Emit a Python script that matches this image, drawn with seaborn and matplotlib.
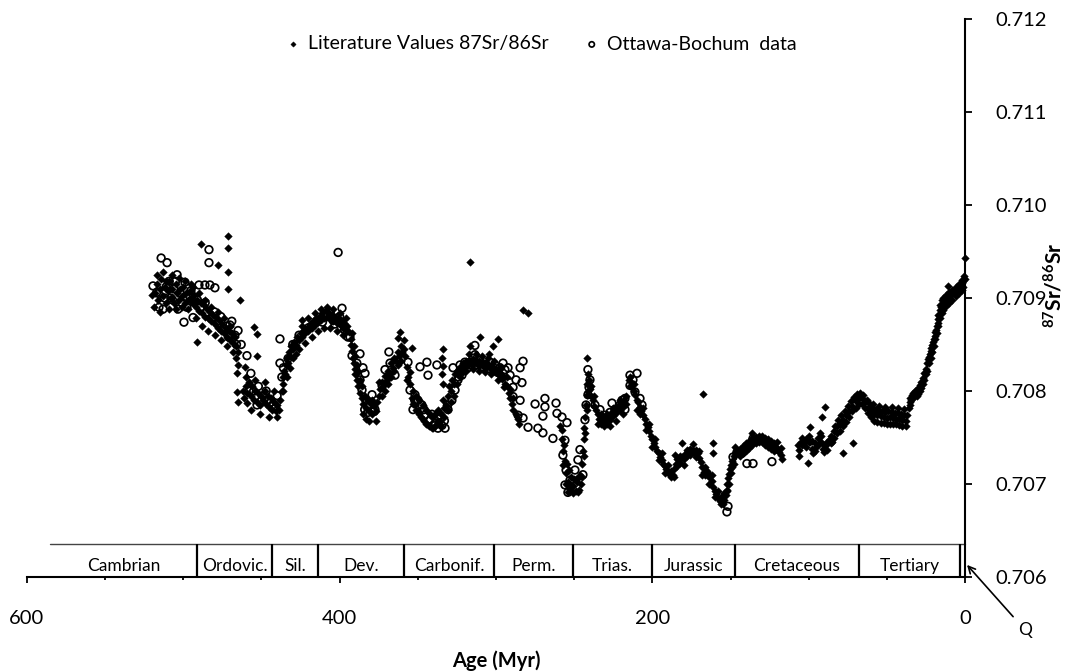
import matplotlib
matplotlib.use("Agg")
import matplotlib.pyplot as plt
import pandas as pd
import seaborn as sns
from matplotlib.ticker import FixedLocator, MultipleLocator

# ---------------- data (age in Myr, 87Sr/86Sr) ----------------
periods = ["Cambrian", "Ordovic.", "Sil.", "Dev.", "Carbonif.", "Perm.",
           "Trias.", "Jurassic", "Cretaceous", "Tertiary"]
period_bounds = [585, 491, 443, 414, 359, 301, 251, 200, 147, 68, 3]
band_top = 0.70636

y_ticks = [0.706, 0.707, 0.708, 0.709, 0.710, 0.711, 0.712]
x_major = [600, 400, 200, 0]

lit_cambrian_ordovician = [
    (520, 0.70903), (518, 0.70905), (517, 0.70915), (516, 0.70898), (515, 0.70910), (514, 0.70920),
    (513, 0.70902), (512, 0.70912), (511, 0.70895), (510, 0.70908), (509, 0.70918), (508, 0.70900),
    (507, 0.70910), (506, 0.70895), (505, 0.70915), (504, 0.70905), (503, 0.70898), (502, 0.70910),
    (501, 0.70902), (500, 0.70912), (499, 0.70895), (498, 0.70905), (497, 0.70898), (496, 0.70908),
    (495, 0.70900), (494, 0.70895), (493, 0.70903), (492, 0.70890), (491, 0.70898), (490, 0.70886),
    (489, 0.70895), (488, 0.70884), (487, 0.70892), (486, 0.70880), (485, 0.70888), (484, 0.70878),
    (483, 0.70885), (482, 0.70875), (481, 0.70882), (480, 0.70872), (479, 0.70880), (478, 0.70868),
    (477, 0.70876), (476, 0.70865), (475, 0.70872), (474, 0.70862), (473, 0.70868), (472, 0.70858),
    (471, 0.70865), (470, 0.70855), (469, 0.70862), (468, 0.70852), (467, 0.70858), (466, 0.70848),
    (465, 0.70842),
    (519, 0.70890), (517, 0.70925), (515, 0.70885), (513, 0.70928), (511, 0.70918), (509, 0.70888),
    (507, 0.70925), (505, 0.70888), (503, 0.70922), (501, 0.70890), (499, 0.70918), (497, 0.70888),
    (495, 0.70915), (494, 0.70912), (492, 0.70878), (490, 0.70905), (488, 0.70870), (486, 0.70898),
    (484, 0.70865), (482, 0.70890), (480, 0.70860), (478, 0.70885), (476, 0.70855), (474, 0.70878),
    (472, 0.70848), (470, 0.70870), (468, 0.70842), (466, 0.70835), (465, 0.70828),
    (491, 0.70853), (488.7, 0.70958), (471.5, 0.70967), (471.5, 0.70954), (478, 0.70935),
    (471.5, 0.70928), (471.5, 0.70910), (464, 0.70898), (455, 0.70869), (453, 0.70861),
    (453, 0.70838), (460.6, 0.70826), (465.7, 0.70819), (465.7, 0.70799), (465, 0.70788),
    (459.3, 0.70787), (424, 0.70876),
]
lit_silurian = [
    (462, 0.70800), (461, 0.70792), (460, 0.70805), (459, 0.70798), (458, 0.70810), (457, 0.70795),
    (456, 0.70805), (455, 0.70790), (454, 0.70800), (453, 0.70788), (452, 0.70798), (451, 0.70785),
    (450, 0.70795), (449, 0.70790), (448, 0.70800), (447, 0.70786), (446, 0.70795), (445, 0.70783),
    (444, 0.70792), (443, 0.70780), (442, 0.70788), (441, 0.70778), (440, 0.70785), (439, 0.70780),
    (438, 0.70790), (437, 0.70800), (436.5, 0.70808), (436, 0.70815), (435.5, 0.70822), (435, 0.70818),
    (434.5, 0.70828), (434, 0.70835), (433, 0.70830), (432.5, 0.70842), (432, 0.70838), (431, 0.70848),
    (430, 0.70845), (429, 0.70853), (428, 0.70850), (427, 0.70858), (426, 0.70855), (425, 0.70862),
    (424, 0.70858), (423, 0.70866), (422, 0.70862), (421, 0.70868), (420, 0.70865), (419, 0.70872),
    (418, 0.70868), (417, 0.70875), (416, 0.70871), (415, 0.70878), (414, 0.70874),
    (460, 0.70815), (457, 0.70780), (454, 0.70812), (451, 0.70775), (448, 0.70810), (445, 0.70772),
    (442, 0.70800), (440, 0.70772), (436, 0.70800), (434, 0.70815), (432, 0.70825), (430, 0.70835),
    (428, 0.70840), (426, 0.70845), (424, 0.70870), (422, 0.70852), (420, 0.70878), (418, 0.70858),
    (416, 0.70884), (414, 0.70864),
]
lit_devonian = [
    (413, 0.70880), (412, 0.70876), (411, 0.70884), (410, 0.70878), (409, 0.70886), (408, 0.70880),
    (407, 0.70884), (406, 0.70877), (405, 0.70882), (404, 0.70875), (403, 0.70880), (402, 0.70873),
    (401, 0.70878), (400, 0.70872), (399, 0.70876), (398, 0.70869), (397, 0.70873), (396, 0.70866),
    (395, 0.70870), (394, 0.70863), (393, 0.70856), (392.5, 0.70850), (392, 0.70843), (391.5, 0.70836),
    (391, 0.70830), (390.5, 0.70824), (390, 0.70818), (389, 0.70812), (388, 0.70805), (387, 0.70798),
    (386, 0.70792), (385, 0.70786), (384, 0.70795), (383, 0.70782), (382, 0.70790), (381, 0.70778),
    (380, 0.70786), (379, 0.70775), (378, 0.70784), (377, 0.70778), (376, 0.70788), (375, 0.70795),
    (374, 0.70802), (373, 0.70810), (372, 0.70805), (371, 0.70816), (370, 0.70812), (369, 0.70822),
    (368, 0.70818), (367, 0.70830), (366, 0.70825), (365, 0.70836), (364, 0.70832), (363, 0.70842),
    (362, 0.70838), (361, 0.70848), (360, 0.70842), (359, 0.70845),
    (412, 0.70888), (410, 0.70868), (408, 0.70890), (406, 0.70868), (404, 0.70888), (402, 0.70864),
    (400, 0.70884), (398, 0.70860), (396, 0.70878), (392, 0.70862), (391, 0.70848), (390, 0.70838),
    (389, 0.70828), (388, 0.70820), (387, 0.70812), (386, 0.70805), (385, 0.70775), (383, 0.70770),
    (381, 0.70768), (379, 0.70790), (377, 0.70768), (375, 0.70810), (373, 0.70795), (371, 0.70800),
    (369, 0.70808), (367, 0.70815), (365, 0.70822), (363, 0.70828), (361, 0.70832), (359, 0.70855),
    (361.4, 0.70863), (362.7, 0.70857), (353.7, 0.70846),
]
lit_carboniferous = [
    (358, 0.70838), (357, 0.70826), (356, 0.70815), (355, 0.70808), (354, 0.70792), (353, 0.70800),
    (352, 0.70785), (351, 0.70795), (350, 0.70778), (349, 0.70790), (348, 0.70772), (347, 0.70785),
    (346, 0.70768), (345, 0.70780), (344, 0.70764), (343, 0.70776), (342, 0.70762), (341, 0.70772),
    (340, 0.70760), (339, 0.70775), (338, 0.70765), (337, 0.70780), (336, 0.70768), (335, 0.70775),
    (334, 0.70790), (333, 0.70772), (332, 0.70785), (331, 0.70795), (330, 0.70805), (329, 0.70800),
    (328, 0.70812), (327, 0.70808), (326, 0.70818), (325, 0.70822), (324, 0.70818), (323, 0.70826),
    (322, 0.70823), (321, 0.70830), (320, 0.70827), (319, 0.70832), (318, 0.70828), (317, 0.70833),
    (316, 0.70829), (315, 0.70834), (314, 0.70830), (313, 0.70833), (312, 0.70829), (311, 0.70832),
    (310, 0.70828), (309, 0.70831), (308, 0.70827), (307, 0.70830), (306, 0.70826), (305, 0.70829),
    (304, 0.70825), (303, 0.70827), (302, 0.70823), (301, 0.70825), (300, 0.70820), (299, 0.70822),
    (298, 0.70817), (297, 0.70818), (296, 0.70813), (295, 0.70815), (294, 0.70808), (293, 0.70805),
    (292, 0.70798), (291, 0.70792), (290, 0.70786), (289, 0.70780),
    (357, 0.70812), (355, 0.70820), (353, 0.70786), (351, 0.70780), (349, 0.70775), (347, 0.70770),
    (345, 0.70765), (343, 0.70762), (341, 0.70760), (339, 0.70762), (337, 0.70768), (335, 0.70762),
    (333, 0.70782), (331, 0.70780), (329, 0.70788), (327, 0.70795), (325, 0.70808), (323, 0.70815),
    (321, 0.70820), (319, 0.70822), (317, 0.70840), (315, 0.70824), (313, 0.70840), (311, 0.70822),
    (309, 0.70838), (307, 0.70820), (305, 0.70835), (303, 0.70818), (301, 0.70832), (299, 0.70812),
    (297, 0.70826), (295, 0.70804), (293, 0.70815), (291, 0.70802), (289, 0.70792),
    (334, 0.70845), (334.5, 0.70836), (334, 0.70827), (334.5, 0.70818), (334, 0.70808),
    (316.6, 0.70939), (310, 0.70858), (298.7, 0.70856), (302, 0.70848), (304.5, 0.70840),
    (316.6, 0.70848), (282.7, 0.70887), (279.5, 0.70884),
]
lit_permian_triassic = [
    (287, 0.70775), (286, 0.70770), (285, 0.70765),
    (259, 0.70762), (258, 0.70748), (257, 0.70735), (256.5, 0.70742), (256, 0.70725), (255, 0.70712),
    (254.5, 0.70722), (254, 0.70702), (253, 0.70715), (252.5, 0.70695), (252, 0.70708), (251, 0.70698),
    (250, 0.70705), (249, 0.70692), (248, 0.70702), (247, 0.70694), (246, 0.70710), (245.5, 0.70700),
    (245, 0.70722), (244.5, 0.70735), (244, 0.70748), (243.5, 0.70760), (243, 0.70772), (242.5, 0.70785),
    (242, 0.70796), (241.5, 0.70808), (241, 0.70818), (240.5, 0.70812), (240, 0.70802), (239, 0.70795),
    (238, 0.70790), (237, 0.70784), (236, 0.70780), (235, 0.70775), (234, 0.70770), (233, 0.70764),
    (232, 0.70768), (231, 0.70762), (230, 0.70770), (229, 0.70765), (228, 0.70773), (227, 0.70769),
    (226, 0.70777), (225, 0.70773), (224, 0.70780), (223, 0.70776), (222, 0.70784), (221, 0.70780),
    (220, 0.70787), (219, 0.70783), (218, 0.70790), (217, 0.70786), (215, 0.70812), (214, 0.70805),
    (213, 0.70809), (212, 0.70800), (211, 0.70796), (210, 0.70790),
    (258, 0.70758), (257, 0.70720), (255, 0.70700), (253, 0.70700), (251, 0.70690), (249, 0.70705),
    (247, 0.70708), (245, 0.70708), (244, 0.70730), (243, 0.70755), (242, 0.70780), (241, 0.70800),
    (239, 0.70805), (237, 0.70795), (235, 0.70765), (233, 0.70775), (231, 0.70772), (229, 0.70775),
    (227, 0.70762), (225, 0.70782), (223, 0.70768), (221, 0.70790), (219, 0.70775), (217, 0.70795),
    (214, 0.70815), (212, 0.70808), (210, 0.70780),
    (241.8, 0.70835), (254, 0.70691), (247.6, 0.70691),
]
lit_jurassic = [
    (209, 0.70788), (208, 0.70783), (207, 0.70779), (206, 0.70774), (205, 0.70770), (204, 0.70765),
    (203, 0.70761), (202, 0.70757), (201, 0.70752), (200, 0.70748), (199, 0.70744), (198, 0.70740),
    (197, 0.70736), (196, 0.70733), (195, 0.70729), (194, 0.70726), (193, 0.70722), (192, 0.70719),
    (191, 0.70716), (190, 0.70713), (189, 0.70710), (188, 0.70707), (187, 0.70710), (186, 0.70716),
    (185, 0.70722), (184, 0.70719), (183, 0.70726), (182, 0.70723), (181, 0.70729), (180, 0.70727),
    (179, 0.70732), (178, 0.70730), (177, 0.70735), (176, 0.70738), (175, 0.70734), (174, 0.70737),
    (173, 0.70732), (172, 0.70729), (171, 0.70733), (170, 0.70728), (169, 0.70724), (168, 0.70718),
    (167, 0.70713), (166, 0.70710), (165, 0.70714), (164, 0.70707), (163, 0.70710), (162, 0.70703),
    (161, 0.70697), (160, 0.70693), (159, 0.70689), (158, 0.70685), (157, 0.70682), (156, 0.70686),
    (155, 0.70679), (154, 0.70683), (153, 0.70688), (152.5, 0.70694), (152, 0.70700), (151.5, 0.70706),
    (151, 0.70711), (150.5, 0.70716), (150, 0.70720), (149, 0.70725), (148, 0.70730), (147, 0.70733),
    (146, 0.70736),
    (208, 0.70775), (206, 0.70782), (204, 0.70758), (202, 0.70765), (200, 0.70740), (198, 0.70748),
    (196, 0.70726), (194, 0.70733), (192, 0.70712), (190, 0.70720), (188, 0.70714), (186, 0.70708),
    (184, 0.70727), (182, 0.70730), (180, 0.70720), (178, 0.70737), (176, 0.70731), (174, 0.70743),
    (172, 0.70737), (170, 0.70735), (168, 0.70710), (166, 0.70718), (164, 0.70700), (162, 0.70710),
    (160, 0.70686), (158, 0.70692), (156, 0.70678), (154, 0.70690), (152, 0.70692), (151, 0.70700),
    (150, 0.70712), (149, 0.70718), (148, 0.70722), (147, 0.70740),
    (181, 0.70744), (185.5, 0.70731), (167.6, 0.70797), (161, 0.70744), (161, 0.70733),
]
lit_cretaceous = [
    (145, 0.70733), (144, 0.70738), (143, 0.70735), (142, 0.70741), (141, 0.70738), (140, 0.70744),
    (139, 0.70740), (138, 0.70746), (137, 0.70743), (136, 0.70749), (135, 0.70746), (134, 0.70751),
    (133, 0.70748), (132, 0.70752), (131, 0.70749), (130, 0.70752), (129, 0.70748), (128, 0.70750),
    (127, 0.70746), (126, 0.70748), (125, 0.70744), (124, 0.70746), (123, 0.70742), (122, 0.70744),
    (121, 0.70740), (120, 0.70737), (119, 0.70734), (118, 0.70731), (117, 0.70727),
    (107, 0.70742), (106, 0.70737), (105, 0.70745), (104, 0.70750), (103, 0.70744), (102, 0.70740),
    (101, 0.70748), (100, 0.70752), (99, 0.70745), (98, 0.70738), (97, 0.70733), (96, 0.70744),
    (95, 0.70740), (94, 0.70750), (93, 0.70755), (92, 0.70745), (91, 0.70738), (90, 0.70734),
    (89, 0.70742), (88, 0.70737), (87, 0.70747), (86, 0.70752), (85, 0.70745), (84, 0.70757),
    (83, 0.70762), (82, 0.70755), (81, 0.70769), (80, 0.70764), (79, 0.70774), (78, 0.70769),
    (77, 0.70779), (76, 0.70774), (75, 0.70784), (74, 0.70779), (73, 0.70789), (72, 0.70784),
    (71, 0.70794), (70, 0.70789), (69, 0.70797), (68, 0.70792),
    (144, 0.70730), (142, 0.70733), (140, 0.70736), (138, 0.70739), (136, 0.70742), (134, 0.70744),
    (132, 0.70745), (130, 0.70745), (128, 0.70742), (126, 0.70740), (124, 0.70738), (122, 0.70736),
    (120, 0.70745), (118, 0.70739), (106, 0.70730), (104, 0.70742), (102, 0.70748), (100, 0.70745),
    (98, 0.70746), (96, 0.70736), (94, 0.70742), (92, 0.70752), (90, 0.70742), (88, 0.70745),
    (86, 0.70744), (84, 0.70750), (82, 0.70762), (80, 0.70757), (78, 0.70762), (76, 0.70767),
    (74, 0.70772), (72, 0.70778), (70, 0.70782), (68, 0.70786),
    (136, 0.70755), (99, 0.70761), (100.5, 0.70723), (91.5, 0.70772), (89.6, 0.70783),
    (78, 0.70733), (71.7, 0.70744),
]
lit_tertiary = [
    (67, 0.70798), (66, 0.70793), (65, 0.70796), (64, 0.70788), (63, 0.70790), (62, 0.70782),
    (61, 0.70786), (60, 0.70778), (59, 0.70782), (58, 0.70775), (57, 0.70780), (56, 0.70774),
    (55, 0.70779), (54, 0.70773), (53, 0.70778), (52, 0.70772), (51, 0.70777), (50, 0.70771),
    (49, 0.70778), (48, 0.70772), (47, 0.70777), (46, 0.70771), (45, 0.70776), (44, 0.70770),
    (43, 0.70776), (42, 0.70770), (41, 0.70775), (40, 0.70769), (39, 0.70774), (38, 0.70768),
    (37, 0.70774), (36, 0.70782), (35.5, 0.70788), (35, 0.70793), (34.5, 0.70790), (34, 0.70796),
    (33, 0.70798), (32, 0.70800), (31, 0.70801), (30, 0.70803), (29, 0.70806), (28, 0.70810),
    (27, 0.70814), (26, 0.70819), (25, 0.70824), (24, 0.70830), (23.5, 0.70834), (23, 0.70837),
    (22.5, 0.70840), (22, 0.70843), (21.5, 0.70846), (21, 0.70849), (20.5, 0.70853), (20, 0.70856),
    (19.5, 0.70859), (19, 0.70863), (18.5, 0.70866), (18, 0.70870), (17.5, 0.70873), (17, 0.70877),
    (16.5, 0.70882), (16, 0.70887), (15.5, 0.70890), (15, 0.70892), (14, 0.70894), (13, 0.70896),
    (12, 0.70898), (11, 0.70900), (10, 0.70902), (9, 0.70903), (8, 0.70905), (7, 0.70906),
    (6, 0.70908), (5, 0.70910), (4, 0.70912), (3, 0.70914), (2, 0.70916), (1, 0.70918), (0.3, 0.70920),
    (66, 0.70786), (64, 0.70782), (62, 0.70776), (60, 0.70772), (58, 0.70768), (56, 0.70767),
    (54, 0.70766), (52, 0.70766), (50, 0.70765), (48, 0.70765), (46, 0.70764), (44, 0.70764),
    (42, 0.70763), (40, 0.70762), (38, 0.70762), (59, 0.70786), (55, 0.70784), (51, 0.70783),
    (47, 0.70783), (43, 0.70782), (39, 0.70781), (35, 0.70785), (33, 0.70792), (31, 0.70795),
    (29, 0.70800), (27, 0.70808), (25, 0.70818), (23, 0.70830), (21, 0.70842), (19, 0.70856),
    (17, 0.70882), (16, 0.70893), (15, 0.70898),
    (30, 0.70797), (28, 0.70803), (26, 0.70812), (24, 0.70822), (22, 0.70835), (20, 0.70848),
    (18, 0.70862), (17, 0.70870), (16, 0.70878), (15, 0.70884), (14, 0.70887), (12, 0.70891),
    (10, 0.70895), (8, 0.70898), (6, 0.70902), (4, 0.70905), (2, 0.70909), (1, 0.70912),
    (14, 0.70900), (12, 0.70903), (10, 0.70906), (8, 0.70909), (6, 0.70912), (4, 0.70915),
    (2, 0.70919), (0.5, 0.70924),
    (10.9, 0.70913), (0, 0.70943),
]

ob_cambrian_ordovician = [
    (514.2, 0.70943), (510.4, 0.70938), (519.4, 0.70913), (515.6, 0.70890), (513, 0.70888),
    (503.4, 0.70888), (499.6, 0.70874), (493.8, 0.70879), (504, 0.70925), (499, 0.70917),
    (497.7, 0.70890), (495.1, 0.70908), (483.6, 0.70952), (483.6, 0.70938), (490, 0.70914),
    (486.2, 0.70914), (483, 0.70914), (479.8, 0.70911), (470.2, 0.70871), (467, 0.70860),
    (459.3, 0.70838), (456.8, 0.70819), (438.2, 0.70856), (438.2, 0.70830), (509, 0.70918),
    (506, 0.70910), (512, 0.70900), (502, 0.70905), (498, 0.70900), (491, 0.70898), (486, 0.70895),
    (480, 0.70885), (476, 0.70880), (472, 0.70870), (469, 0.70875), (465, 0.70865), (463, 0.70850),
    (517, 0.70906), (508, 0.70900), (516, 0.70905), (511, 0.70912), (507, 0.70898), (505, 0.70918),
    (501, 0.70895), (496, 0.70902), (493, 0.70895), (489, 0.70890), (485, 0.70885), (482, 0.70878),
    (478, 0.70872), (474, 0.70866), (471, 0.70858), (466, 0.70850),
    (455, 0.70800), (452, 0.70805), (449, 0.70795), (446, 0.70790), (443, 0.70785), (440, 0.70795),
    (437, 0.70815), (436, 0.70825), (452.9, 0.70785), (433, 0.70835), (430, 0.70850),
    (426, 0.70860), (420, 0.70868), (458, 0.70800), (450, 0.70790), (447, 0.70800),
    (444, 0.70788), (441, 0.70782),
]
ob_devonian_carboniferous = [
    (401, 0.70949), (398.5, 0.70889), (409.4, 0.70880), (404.3, 0.70876), (399.8, 0.70873),
    (396.6, 0.70868), (394.7, 0.70858), (393.4, 0.70858), (392.1, 0.70838), (387, 0.70840),
    (389, 0.70830), (385.1, 0.70825), (383.8, 0.70819), (387, 0.70812), (385.7, 0.70801),
    (383.2, 0.70790), (380.6, 0.70785), (379.3, 0.70796), (377.4, 0.70780), (381.9, 0.70777),
    (368.5, 0.70842), (367.8, 0.70830), (371, 0.70823), (364.6, 0.70817), (372.9, 0.70806),
    (406, 0.70884), (402, 0.70878), (411, 0.70874), (408, 0.70882), (403, 0.70872), (400, 0.70880),
    (397, 0.70866), (384, 0.70780), (382, 0.70785), (378, 0.70778),
    (356.3, 0.70831), (348.6, 0.70826), (344.2, 0.70831), (343.5, 0.70817), (337.8, 0.70828),
    (353.1, 0.70780), (355, 0.70801), (351.8, 0.70796), (349.9, 0.70790), (347.4, 0.70785),
    (345.5, 0.70774), (342.2, 0.70769), (340.3, 0.70763), (337.1, 0.70760), (334.6, 0.70763),
    (332.6, 0.70760), (335.8, 0.70774), (330.7, 0.70780), (328.2, 0.70790), (326.2, 0.70801),
    (324.3, 0.70812), (323, 0.70828), (319.9, 0.70831), (313.5, 0.70849), (313.5, 0.70839),
    (316.6, 0.70828), (310.2, 0.70833), (307, 0.70828), (303.8, 0.70831), (300.7, 0.70828),
    (297.4, 0.70825), (294.3, 0.70823), (321.8, 0.70817), (327.5, 0.70825), (324, 0.70815),
    (352, 0.70790), (346, 0.70780), (341, 0.70775), (339, 0.70765), (336, 0.70770), (333, 0.70768),
    (331, 0.70785), (318, 0.70825), (315, 0.70830), (312, 0.70828), (309, 0.70826), (305, 0.70824),
    (302, 0.70826), (299, 0.70820),
]
ob_permian_triassic = [
    (295.5, 0.70830), (282.7, 0.70832), (284.6, 0.70825), (283.4, 0.70809), (289.1, 0.70804),
    (289.1, 0.70794), (284.6, 0.70790), (285.9, 0.70774), (282.7, 0.70771), (279.5, 0.70761),
    (291, 0.70817), (287.2, 0.70812), (292.3, 0.70825), (275, 0.70786), (268.7, 0.70792),
    (268.7, 0.70783), (270, 0.70773), (261.6, 0.70787), (261, 0.70776), (257.8, 0.70772),
    (254.6, 0.70766), (273.2, 0.70760), (270, 0.70755), (263.6, 0.70749), (255.9, 0.70747),
    (257.2, 0.70731), (255.2, 0.70715), (255.9, 0.70699), (252.7, 0.70704), (249.5, 0.70715),
    (247.6, 0.70726), (246.3, 0.70737), (244.4, 0.70710), (254, 0.70691),
    (241.2, 0.70823), (240.5, 0.70804), (239.9, 0.70812), (241.2, 0.70796), (243.1, 0.70769),
    (242.4, 0.70785), (236.7, 0.70785), (233.5, 0.70780), (230.3, 0.70774), (227.1, 0.70777),
    (223.9, 0.70780), (220.7, 0.70785), (219.4, 0.70790), (217.5, 0.70780), (217.5, 0.70792),
    (225.8, 0.70787), (214.3, 0.70817), (209.8, 0.70819), (214.3, 0.70806), (212.4, 0.70812),
    (211.1, 0.70799), (207.9, 0.70792), (206.6, 0.70785),
]
ob_jurassic_cretaceous = [
    (152.3, 0.70670), (151.6, 0.70676), (148.4, 0.70729), (145.9, 0.70734), (142.7, 0.70733),
    (135.6, 0.70749), (139.5, 0.70722), (135.6, 0.70722), (123.5, 0.70724),
]


def to_frame(*groups):
    rows = [pt for g in groups for pt in g]
    return pd.DataFrame(rows, columns=["age", "sr"])


lit = to_frame(lit_cambrian_ordovician, lit_silurian, lit_devonian, lit_carboniferous,
               lit_permian_triassic, lit_jurassic, lit_cretaceous, lit_tertiary)
ob = to_frame(ob_cambrian_ordovician, ob_devonian_carboniferous, ob_permian_triassic,
              ob_jurassic_cretaceous)

# ---------------- style ----------------
sns.set_theme(style="white", rc={
    "axes.edgecolor": "black", "text.color": "black", "axes.labelcolor": "black",
    "xtick.color": "black", "ytick.color": "black"})
plt.rcParams["font.family"] = ["Lato", "DejaVu Sans"]
plt.rcParams["mathtext.fontset"] = "custom"
plt.rcParams["mathtext.rm"] = "Lato"
plt.rcParams["mathtext.bf"] = "Lato:bold"

W, H = 1082, 672
fig = plt.figure(figsize=(W / 100, H / 100), dpi=100)
ax = fig.add_axes([27 / W, 95 / H, 938 / W, 558 / H])

sns.scatterplot(data=lit, x="age", y="sr", ax=ax, marker="D", s=15, color="black",
                edgecolor="black", linewidth=0.3, label="Literature Values 87Sr/86Sr",
                zorder=3, clip_on=False)
sns.scatterplot(data=ob, x="age", y="sr", ax=ax, marker="o", s=30, color="black",
                facecolor="none", edgecolor="black", linewidth=1.25,
                label="Ottawa-Bochum  data", zorder=4)

ax.set_xlim(600, 0)
ax.set_ylim(0.706, 0.712)

for side in ("top", "left"):
    ax.spines[side].set_visible(False)
for side in ("bottom", "right"):
    ax.spines[side].set_linewidth(1.5)
    ax.spines[side].set_color("black")

ax.yaxis.tick_right()
ax.yaxis.set_label_position("right")
ax.yaxis.set_major_locator(FixedLocator(y_ticks))
ax.set_yticklabels([f"{v:.3f}" for v in y_ticks])
ax.xaxis.set_major_locator(FixedLocator(x_major))
ax.xaxis.set_minor_locator(MultipleLocator(50))
ax.set_xticklabels([str(v) for v in x_major])

ax.tick_params(axis="x", which="major", bottom=True, direction="out", length=4.5,
               width=1.3, pad=19, labelsize=14.5)
ax.tick_params(axis="x", which="minor", bottom=True, direction="out", length=2.5, width=1.3)
ax.tick_params(axis="y", which="major", right=True, left=False, direction="out",
               length=5, width=1.3, pad=17, labelsize=14.5)

ax.set_xlabel("Age (Myr)", fontsize=14.5, fontweight="bold", va="center")
ax.xaxis.set_label_coords(0.5, (577 - 661) / 558)
ax.set_ylabel(r"$\mathbf{{}^{87}Sr/{}^{86}Sr}$", fontsize=15, rotation=90)
ax.yaxis.set_label_coords((1043 - 27) / 938, (577 - 285) / 558)

# geologic time band
ax.plot([period_bounds[0], 0], [band_top, band_top], color="#444444", lw=1.0,
        zorder=2, clip_on=False)
ax.vlines(period_bounds[1:], 0.706, band_top, color="black", lw=1.6, zorder=2)
for name, a0, a1 in zip(periods, period_bounds[:-1], period_bounds[1:]):
    ax.text((a0 + a1) / 2, 0.70612, name, ha="center", va="center", fontsize=12.5)

ax.annotate("Q", xy=(-1.3, 0.70613), xycoords="data", xytext=(1025, H - 630),
            textcoords="figure pixels", ha="center", va="center", fontsize=12.5,
            arrowprops=dict(arrowstyle="->", color="black", lw=1.2, shrinkA=2, shrinkB=0),
            annotation_clip=False)

ax.legend(loc="center", bbox_to_anchor=((540 - 27) / 938, (577 - 44) / 558), ncol=2,
          frameon=False, fontsize=14, handletextpad=0.3, columnspacing=1.7,
          handlelength=1.0, markerscale=0.7, borderaxespad=0)

fig.savefig("out.png", dpi=100)
